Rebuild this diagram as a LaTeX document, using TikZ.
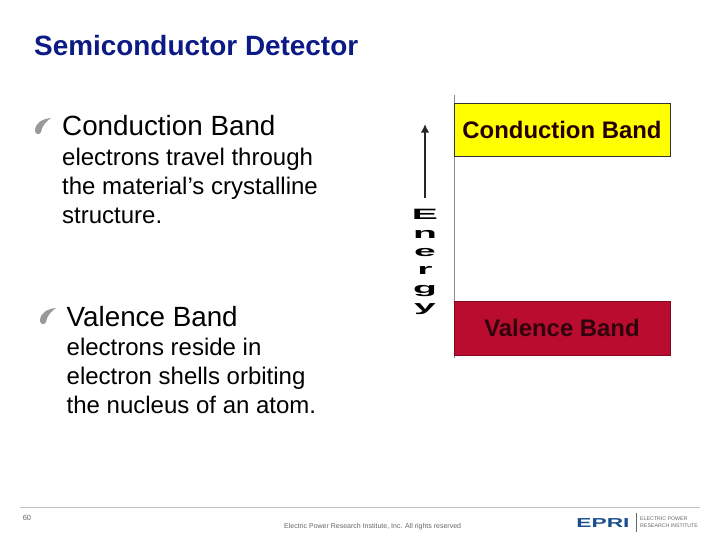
\documentclass[tikz,border=0pt]{standalone}
\usepackage{fontspec}
\setmainfont{Liberation Sans}
\usepackage{graphicx}
\usetikzlibrary{arrows.meta}
\definecolor{titleblue}{HTML}{0B1A84}
\definecolor{bandyellow}{HTML}{FFFF00}
\definecolor{bandred}{HTML}{BA0C2F}
\definecolor{eprigrey}{HTML}{666666}
\definecolor{epriblue}{HTML}{1A4E8C}
\tikzset{%
  >={Latex[width=3mm,length=3mm]},
  % Specifications for style of nodes:
     bandbox/.style = {rectangle, draw=black!80, line width=0.6pt, inner sep=0pt,
                       minimum width=216pt, text=black!85!red,
                       font=\fontsize{23.9}{23.9}\selectfont\bfseries},
     heading/.style = {anchor=north west, inner sep=0pt, align=left,
                       font=\fontsize{27.8}{27.8}\selectfont},
     bodytext/.style = {anchor=north west, inner sep=0pt, align=left,
                       font=\fontsize{24}{29}\selectfont},
     swoosh/.style = {fill=black!40, draw=none},
     tinytext/.style = {inner sep=0pt, text=eprigrey}
}
\begin{document}
\begin{tikzpicture}[x=1pt, y=-1pt]
  \useasboundingbox (0,0) rectangle (720,540);

  % Title
  \node (title) [anchor=west, inner sep=0pt, text=titleblue,
    font=\fontsize{27.9}{27.9}\selectfont\bfseries] at (34,46) {Semiconductor Detector};

  % Text on the left
  \node (condhead) [heading] at (62,115) {Conduction Band};
  \node (condtext) [bodytext] at (62,148) {electrons travel through\\the material’s crystalline\\structure.};
  \node (valhead) [heading] at (66.5,306) {Valence Band};
  \node (valtext) [bodytext] at (66.5,338) {electrons reside in\\electron shells orbiting\\the nucleus of an atom.};

  % Bullets
  \fill[swoosh] (35,131) .. controls (35,123) and (42,119) .. (51,118) .. controls (47,121) and (42,125) .. (41,132) .. controls (39,135) and (36,135) .. (35,131) -- cycle;
  \fill[swoosh] (40,321) .. controls (40,313) and (47,309) .. (56,308) .. controls (52,311) and (47,315) .. (46,322) .. controls (44,325) and (41,325) .. (40,321) -- cycle;

  % Bands
  \coordinate (axistop) at (454,95);
  \coordinate (axisbot) at (454,358);
  \draw[black!45, line width=0.7pt] (axistop) -- (axisbot);
  \node (cond) [bandbox, fill=bandyellow, minimum height=53pt] at (562,129.5) {Conduction Band};
  \node (val) [bandbox, fill=bandred, minimum height=54pt, draw=bandred!70!black, text=black!75!bandred] at (562,328) {Valence Band};

  % Energy arrow
  \node (energy) [inner sep=0pt, align=center, font=\fontsize{15}{18.4}\selectfont\bfseries] at (425,262)
    {\scalebox{2.6}[1]{E}\\\scalebox{2.6}[1]{n}\\\scalebox{2.6}[1]{e}\\\scalebox{2.6}[1]{r}\\\scalebox{2.6}[1]{g}\\\scalebox{2.6}[1]{y}};
  \coordinate (arrowtip) at (425,124);
  \draw[->, line width=2.2pt, black!85] (425,198) -- (arrowtip);

  % Footer
  \coordinate (ruleleft) at (20,507.5);
  \coordinate (ruleright) at (700,507.5);
  \draw[black!25, line width=0.7pt] (ruleleft) -- (ruleright);
  \node (pagenum) [tinytext, font=\fontsize{7.5}{7.5}\selectfont] at (27,518) {60};
  \node (copyright) [tinytext, anchor=west, font=\fontsize{7}{7}\selectfont] at (284,527)
    {Electric Power Research Institute, Inc. All rights reserved};
  \node (eprilogo) [inner sep=0pt, text=epriblue, font=\fontsize{13}{13}\selectfont\bfseries] at (603,523)
    {\scalebox{1.75}[1]{EPRI}};
  \coordinate (septop) at (636,513);
  \coordinate (sepbot) at (636,532);
  \draw[black!60, line width=0.5pt] (septop) -- (sepbot);
  \node (epriname) [tinytext, anchor=west, align=left, font=\fontsize{5.25}{7}\selectfont] at (640,522.5)
    {ELECTRIC POWER\\RESEARCH INSTITUTE};
\end{tikzpicture}
\end{document}
